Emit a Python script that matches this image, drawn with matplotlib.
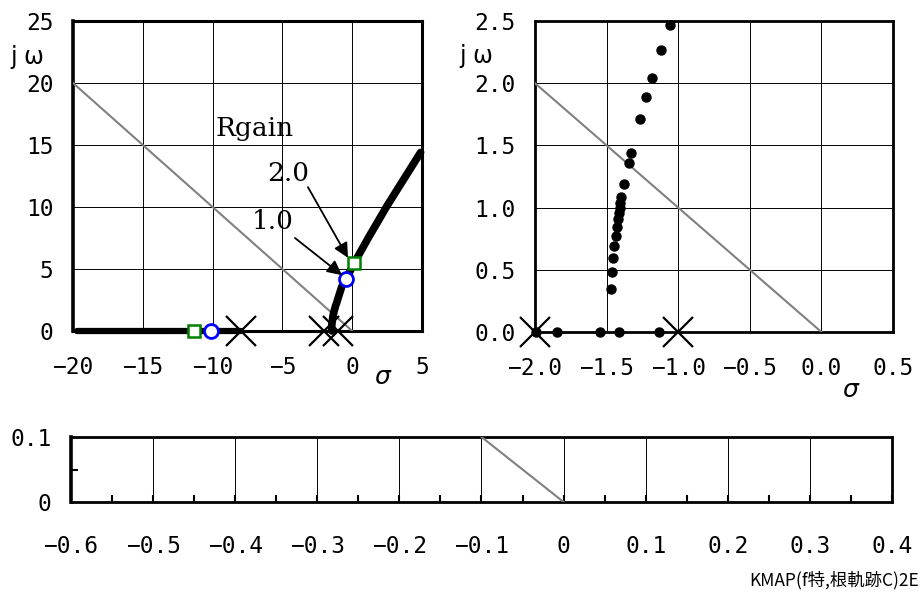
import matplotlib
matplotlib.use("Agg")
import matplotlib.pyplot as plt
import numpy as np

plt.rcParams['font.family'] = ['DejaVu Sans Mono', 'Noto Sans CJK JP', 'DejaVu Sans']

# ---------------- data ----------------
poles_sigma = [-8.0, -2.0, -1.0]
poles_omega = [0.0, 0.0, 0.0]

# left plot root-locus
real_branch_sigma = [-19.7, -8.0]
real_branch_omega = [0.0, 0.0]
cplx_branch_sigma = [-1.45, -1.47, -1.46, -1.45, -1.43, -1.41, -1.40, -1.38, -1.35, -1.27,
                     -1.19, -1.11, -1.06, -0.75, -0.44, 0.13, 1.20, 2.50, 4.90]
cplx_branch_omega = [0.0, 0.34, 0.49, 0.60, 0.77, 0.91, 1.03, 1.19, 1.36, 1.71,
                     2.04, 2.27, 2.47, 3.57, 4.17, 5.46, 7.60, 10.10, 14.40]

# Rgain markers
rgain1_sigma = [-10.14, -0.44]
rgain1_omega = [0.0, 4.17]
rgain2_sigma = [-11.3, 0.13]
rgain2_omega = [0.0, 5.46]

# right plot dots (zoomed locus)
dots_sigma = [-1.99, -1.849, -1.544, -1.416, -1.134,
              -1.471, -1.462, -1.453, -1.446, -1.434, -1.425, -1.418, -1.413, -1.409,
              -1.404, -1.397, -1.381, -1.346, -1.330, -1.267, -1.225, -1.185, -1.122, -1.057]
dots_omega = [0.0, 0.0, 0.0, 0.0, 0.0,
              0.343, 0.485, 0.597, 0.691, 0.772, 0.841, 0.908, 0.954, 0.994,
              1.034, 1.083, 1.187, 1.356, 1.439, 1.712, 1.886, 2.042, 2.269, 2.468]

# damping line end points
left_diag_x = [-20, 0]
left_diag_y = [20, 0]
right_diag_x = [-2, 0]
right_diag_y = [2, 0]
bot_diag_x = [-0.1, 0]
bot_diag_y = [0.1, 0]

left_xticks = [-20, -15, -10, -5, 0, 5]
left_xlabels = ['\u221220', '\u221215', '\u221210', '\u22125', '0', '5']
left_yticks = [0, 5, 10, 15, 20, 25]
left_ylabels = ['0', '5', '10', '15', '20', '25']
right_xticks = [-2.0, -1.5, -1.0, -0.5, 0.0, 0.5]
right_xlabels = ['\u22122.0', '\u22121.5', '\u22121.0', '\u22120.5', '0.0', '0.5']
right_yticks = [0.0, 0.5, 1.0, 1.5, 2.0, 2.5]
right_ylabels = ['0.0', '0.5', '1.0', '1.5', '2.0', '2.5']
bot_xticks = [-0.6, -0.5, -0.4, -0.3, -0.2, -0.1, 0, 0.1, 0.2, 0.3, 0.4]
bot_xlabels = ['\u22120.6', '\u22120.5', '\u22120.4', '\u22120.3', '\u22120.2', '\u22120.1',
               '0', '0.1', '0.2', '0.3', '0.4']
bot_yticks = [0, 0.1]
bot_ylabels = ['0', '0.1']

# ---------------- figure ----------------
W, H = 924, 592
fig = plt.figure(figsize=(W / 100, H / 100), dpi=100)

def rect(l, t, r, b):
    return [l / W, 1 - b / H, (r - l) / W, (b - t) / H]

axL = fig.add_axes(rect(73, 21, 422, 331))
axR = fig.add_axes(rect(535, 21, 893, 332))
axB = fig.add_axes(rect(71, 437, 892, 502))

TICK_FS = 16.5
grid_kw = dict(color='black', linewidth=0.7)

def style(ax, spine_w=2.0):
    for s in ax.spines.values():
        s.set_linewidth(spine_w)
        s.set_color('black')
    ax.tick_params(axis='both', length=0, labelsize=TICK_FS)
    ax.tick_params(axis='x', pad=18)
    ax.tick_params(axis='y', pad=14)

# ----- left -----
axL.set_xlim(-20, 5)
axL.set_ylim(0, 25)
axL.set_xticks(left_xticks)
axL.set_xticklabels(left_xlabels)
axL.set_yticks(left_yticks)
axL.set_yticklabels(left_ylabels)
axL.grid(True, **grid_kw)
style(axL, 2.2)
axL.spines['left'].set_linewidth(2.6)
axL.plot(left_diag_x, left_diag_y, color='#808080', lw=1.5, zorder=3)
axL.plot(real_branch_sigma, real_branch_omega, color='black', lw=4.5,
         solid_capstyle='round', zorder=4, clip_on=False)
axL.plot(cplx_branch_sigma, cplx_branch_omega, color='black', lw=5.5,
         solid_capstyle='round', solid_joinstyle='round', zorder=4, clip_on=False)
axL.plot(poles_sigma, poles_omega, linestyle='none', marker='x', ms=22, mew=1.6,
         color='black', zorder=5, clip_on=False)
axL.plot(rgain1_sigma, rgain1_omega, linestyle='none', marker='o', ms=10,
         mfc='white', mec='#0000FF', mew=2, zorder=6, clip_on=False)
axL.plot(rgain2_sigma, rgain2_omega, linestyle='none', marker='s', ms=8,
         mfc='white', mec='#008000', mew=1.8, zorder=6, clip_on=False)
txt_kw = dict(family=['DejaVu Serif'], fontsize=19, ha='center',
              va='center', color='black', zorder=7)
axL.text(-7.0, 16.3, 'Rgain', **txt_kw)
axL.text(-4.6, 12.7, '2.0', **txt_kw)
axL.text(-5.7, 8.8, '1.0', **txt_kw)
arr = dict(arrowstyle='-|>', color='black', lw=1.3, mutation_scale=22, shrinkA=0, shrinkB=0)
axL.annotate('', xy=(-0.30, 5.9), xytext=(-3.17, 11.6), arrowprops=arr, zorder=7)
axL.annotate('', xy=(-0.73, 4.5), xytext=(-4.10, 7.5), arrowprops=arr, zorder=7)
fig.text(27 / W, 1 - 57 / H, 'j \u03c9', fontsize=17, ha='center', va='center',
         family=['DejaVu Sans'])
fig.text(382 / W, 1 - 377 / H, '\u03c3', fontsize=18, ha='center', va='center',
         family=['DejaVu Sans'], style='italic')

# ----- right -----
axR.set_xlim(-2.0, 0.5)
axR.set_ylim(0, 2.5)
axR.set_xticks(right_xticks)
axR.set_xticklabels(right_xlabels)
axR.set_yticks(right_yticks)
axR.set_yticklabels(right_ylabels)
axR.grid(True, **grid_kw)
style(axR, 2.0)
axR.plot(right_diag_x, right_diag_y, color='#808080', lw=1.5, zorder=3)
axR.plot(dots_sigma, dots_omega, linestyle='none', marker='o', ms=6.5, color='black',
         zorder=5, clip_on=False)
axR.plot(poles_sigma, poles_omega, linestyle='none', marker='x', ms=22, mew=1.6,
         color='black', zorder=6, clip_on=False)
axR.set_xlim(-2.0, 0.5)
fig.text(476 / W, 1 - 56 / H, 'j \u03c9', fontsize=17, ha='center', va='center',
         family=['DejaVu Sans'])
fig.text(850 / W, 1 - 390 / H, '\u03c3', fontsize=18, ha='center', va='center',
         family=['DejaVu Sans'], style='italic')

# ----- bottom -----
axB.set_xlim(-0.6, 0.4)
axB.set_ylim(0, 0.1)
axB.set_xticks(bot_xticks)
axB.set_xticklabels(bot_xlabels)
axB.set_yticks(bot_yticks)
axB.set_yticklabels(bot_ylabels)
axB.xaxis.grid(True, **grid_kw)
style(axB, 2.0)
axB.spines['left'].set_linewidth(2.6)
axB.set_xticks(np.arange(-0.55, 0.4, 0.1), minor=True)
axB.set_yticks([0.05], minor=True)
axB.tick_params(which='minor', direction='in', length=5, width=1.5)
axB.tick_params(which='major', axis='x', direction='in', length=5, width=1.5, pad=24)
axB.tick_params(axis='y', pad=14)
axB.plot(bot_diag_x, bot_diag_y, color='#808080', lw=1.5, zorder=3)

fig.text(919 / W, 1 - 580 / H, 'KMAP(f特,根軌跡C)2E', fontsize=12.5, ha='right', va='center',
         family=['Noto Sans CJK JP', 'DejaVu Sans'])

fig.savefig('out.png', dpi=100)
